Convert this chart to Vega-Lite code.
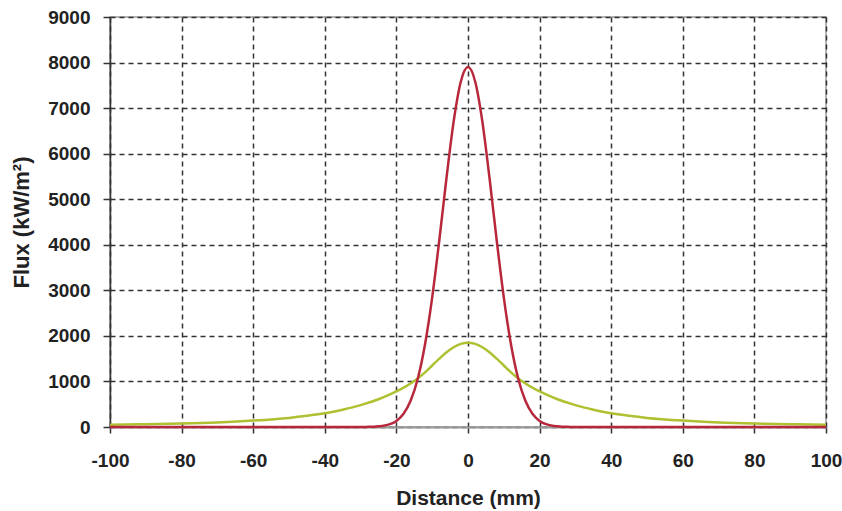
{
  "$schema": "https://vega.github.io/schema/vega-lite/v6.json",
  "width": 716,
  "height": 410,
  "autosize": "none",
  "padding": {"left": 110, "top": 17, "right": 16, "bottom": 84},
  "background": "white",
  "config": {
    "view": {"stroke": "#9a9a9a", "strokeWidth": 1.5},
    "font": "Liberation Sans",
    "axis": {
      "labelFont": "Liberation Sans",
      "labelFontWeight": "bold",
      "labelFontSize": 19,
      "labelColor": "#222",
      "titleFont": "Liberation Sans",
      "titleFontWeight": "bold",
      "titleFontSize": 21,
      "titleColor": "#222",
      "gridColor": "#333",
      "gridDash": [5, 4],
      "gridWidth": 1.5,
      "gridOpacity": 1,
      "tickColor": "#333",
      "tickWidth": 1.5
    }
  },
  "data": {
    "values": [
      {"x": -100, "flux": 50, "series": "B"},
      {"x": -90, "flux": 60, "series": "B"},
      {"x": -80, "flux": 75, "series": "B"},
      {"x": -70, "flux": 100, "series": "B"},
      {"x": -60, "flux": 140, "series": "B"},
      {"x": -50, "flux": 200, "series": "B"},
      {"x": -45, "flux": 245, "series": "B"},
      {"x": -40, "flux": 300, "series": "B"},
      {"x": -35, "flux": 380, "series": "B"},
      {"x": -30, "flux": 480, "series": "B"},
      {"x": -25, "flux": 610, "series": "B"},
      {"x": -20, "flux": 780, "series": "B"},
      {"x": -15, "flux": 1010, "series": "B"},
      {"x": -12, "flux": 1200, "series": "B"},
      {"x": -10, "flux": 1350, "series": "B"},
      {"x": -8, "flux": 1500, "series": "B"},
      {"x": -6, "flux": 1640, "series": "B"},
      {"x": -4, "flux": 1750, "series": "B"},
      {"x": -2, "flux": 1825, "series": "B"},
      {"x": 0, "flux": 1850, "series": "B"},
      {"x": 2, "flux": 1825, "series": "B"},
      {"x": 4, "flux": 1750, "series": "B"},
      {"x": 6, "flux": 1640, "series": "B"},
      {"x": 8, "flux": 1500, "series": "B"},
      {"x": 10, "flux": 1350, "series": "B"},
      {"x": 12, "flux": 1200, "series": "B"},
      {"x": 15, "flux": 1010, "series": "B"},
      {"x": 20, "flux": 780, "series": "B"},
      {"x": 25, "flux": 610, "series": "B"},
      {"x": 30, "flux": 480, "series": "B"},
      {"x": 35, "flux": 380, "series": "B"},
      {"x": 40, "flux": 300, "series": "B"},
      {"x": 45, "flux": 245, "series": "B"},
      {"x": 50, "flux": 200, "series": "B"},
      {"x": 60, "flux": 140, "series": "B"},
      {"x": 70, "flux": 100, "series": "B"},
      {"x": 80, "flux": 75, "series": "B"},
      {"x": 90, "flux": 60, "series": "B"},
      {"x": 100, "flux": 50, "series": "B"},
      {"x": -100, "flux": 0, "series": "A"},
      {"x": -30, "flux": 0, "series": "A"},
      {"x": -28, "flux": 3, "series": "A"},
      {"x": -26, "flux": 8, "series": "A"},
      {"x": -24, "flux": 22, "series": "A"},
      {"x": -22, "flux": 57, "series": "A"},
      {"x": -20, "flux": 134, "series": "A"},
      {"x": -18, "flux": 290, "series": "A"},
      {"x": -16, "flux": 580, "series": "A"},
      {"x": -14, "flux": 1069, "series": "A"},
      {"x": -12, "flux": 1817, "series": "A"},
      {"x": -10, "flux": 2847, "series": "A"},
      {"x": -8, "flux": 4110, "series": "A"},
      {"x": -6, "flux": 5472, "series": "A"},
      {"x": -4, "flux": 6710, "series": "A"},
      {"x": -2, "flux": 7584, "series": "A"},
      {"x": 0, "flux": 7900, "series": "A"},
      {"x": 2, "flux": 7584, "series": "A"},
      {"x": 4, "flux": 6710, "series": "A"},
      {"x": 6, "flux": 5472, "series": "A"},
      {"x": 8, "flux": 4110, "series": "A"},
      {"x": 10, "flux": 2847, "series": "A"},
      {"x": 12, "flux": 1817, "series": "A"},
      {"x": 14, "flux": 1069, "series": "A"},
      {"x": 16, "flux": 580, "series": "A"},
      {"x": 18, "flux": 290, "series": "A"},
      {"x": 20, "flux": 134, "series": "A"},
      {"x": 22, "flux": 57, "series": "A"},
      {"x": 24, "flux": 22, "series": "A"},
      {"x": 26, "flux": 8, "series": "A"},
      {"x": 28, "flux": 3, "series": "A"},
      {"x": 30, "flux": 0, "series": "A"},
      {"x": 100, "flux": 0, "series": "A"}
    ]
  },
  "mark": {"type": "line", "strokeWidth": 2.5, "interpolate": "monotone"},
  "encoding": {
    "x": {
      "field": "x",
      "type": "quantitative",
      "scale": {"domain": [-100, 100], "nice": false},
      "axis": {
        "values": [-100, -80, -60, -40, -20, 0, 20, 40, 60, 80, 100],
        "labelExpr": "'' + datum.value",
        "title": "Distance (mm)",
        "domainColor": "#999",
        "domainWidth": 2,
        "tickSize": 6,
        "labelPadding": 18,
        "titlePadding": 17,
        "labelFlush": false
      }
    },
    "y": {
      "field": "flux",
      "type": "quantitative",
      "scale": {"domain": [0, 9000], "nice": false},
      "axis": {
        "values": [0, 1000, 2000, 3000, 4000, 5000, 6000, 7000, 8000, 9000],
        "labelExpr": "'' + datum.value",
        "title": "Flux (kW/m²)",
        "titleFontSize": 22,
        "domainColor": "#333",
        "domainWidth": 1.5,
        "tickSize": 7,
        "labelPadding": 13,
        "titlePadding": 14,
        "labelFlush": false
      }
    },
    "color": {
      "field": "series",
      "type": "nominal",
      "scale": {"domain": ["B", "A"], "range": ["#afc030", "#b8283c"]},
      "legend": null
    },
    "order": {"field": "x", "type": "quantitative"}
  }
}
